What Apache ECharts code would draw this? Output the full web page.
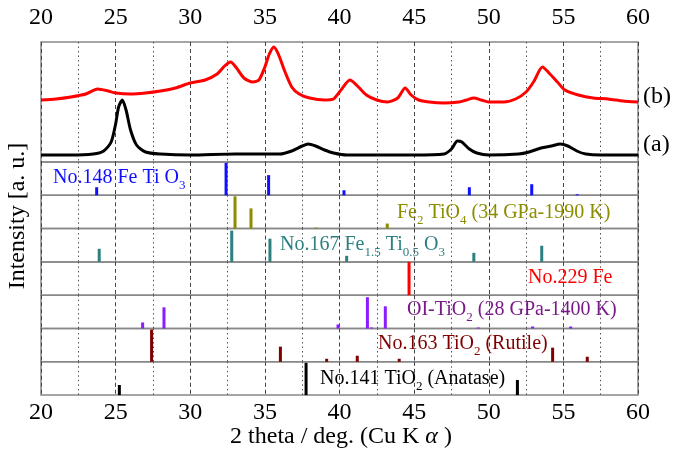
<!DOCTYPE html>
<html>
<head>
<meta charset="utf-8">
<script src="https://cdn.jsdelivr.net/npm/echarts@6/dist/echarts.min.js"></script>
<style>
  html, body { margin: 0; padding: 0; background: #fff; }
  #main { width: 676px; height: 452px; }
</style>
</head>
<body>
<div id="main"></div>
<script>
// 2 theta tick labels
var xTicks = [20, 25, 30, 35, 40, 45, 50, 55, 60];

// measured patterns (2 theta, intensity a.u.)
var angleB = [20, 21, 22, 23, 23.8, 24.5, 25, 26, 27, 28, 29, 30, 31, 31.8, 32.3, 32.7, 33.1, 33.6, 34.2, 34.6,
    35.0, 35.3, 35.6, 35.9, 36.3, 36.8, 37.3, 38, 39, 39.6, 40.1, 40.7, 41.2, 41.8, 42.5, 43.2, 43.9, 44.4,
    44.8, 45.3, 46, 47, 48, 48.5, 49, 49.5, 50, 51, 51.8, 52.5, 53.0, 53.6, 54.1, 54.6, 55.1, 56, 57, 58, 59, 60];
var intensB = [62, 63, 65, 68, 73, 71, 69, 68, 69, 71, 74, 79, 82, 88, 96, 100, 94, 84, 80, 82,
    95, 108, 115, 108, 92, 75, 68, 64, 62, 63, 72, 82, 76, 67, 62, 60, 64, 74,
    67, 62, 60, 59, 60, 62, 64, 62, 60, 60, 63, 70, 80, 95, 88, 80, 72, 67, 64, 63, 61, 60];
var angleA = [20, 22, 23.5, 24.2, 24.7, 25.0, 25.2, 25.45, 25.7, 26.0, 26.4, 27, 28, 30, 33, 36, 36.8, 37.5, 37.9,
    38.4, 39, 39.6, 40.5, 42, 45, 47, 47.5, 47.9, 48.2, 48.7, 49.2, 50, 52, 52.7, 53.5, 54.2, 54.8, 55.3,
    55.9, 56.5, 57.5, 60];
var intensA = [7, 7, 8, 11, 20, 38, 55, 62, 52, 32, 17, 10, 8, 7, 8, 8, 11, 16, 18,
    16, 12, 9, 7, 7, 7, 8, 13, 21, 20, 13, 9, 7, 8, 10, 14, 16, 18, 16,
    11, 8, 7, 7];

// reference stick patterns
var pos148 = [23.73, 32.4, 35.25, 40.3, 48.7, 52.88, 55.93];
var int148 = [8, 32, 20, 5, 8, 11, 1];
var posFe2TiO4 = [33.0, 34.07, 38.43, 43.2];
var intFe2TiO4 = [32, 20, 1, 5];
var pos167 = [23.9, 32.78, 35.34, 40.48, 49.0, 53.55];
var int167 = [13, 31, 23, 6, 9, 16];
var pos229 = [44.66];
var int229 = [33];
var posOI = [26.81, 28.24, 39.9, 41.87, 42.15, 43.07, 49.3, 52.94, 55.49];
var intOI = [6, 21, 4, 31, 1, 22, 1, 2, 2];
var pos163 = [27.41, 36.04, 39.14, 41.19, 44.0, 54.28, 56.6];
var int163 = [32, 15, 3, 6, 3, 14, 5];
var pos141 = [25.25, 37.76, 51.92];
var int141 = [10, 32, 15];

var serif = 'Liberation Serif';

function pairs(xs, ys) {
    var out = [];
    for (var i = 0; i < xs.length; i++) {
        out.push([xs[i], ys[i]]);
    }
    return out;
}

var sticks = [
    {pos: pos148, val: int148, color: '#1010ff'},
    {pos: posFe2TiO4, val: intFe2TiO4, color: '#8c8c00'},
    {pos: pos167, val: int167, color: '#2e8080'},
    {pos: pos229, val: int229, color: '#ff0000'},
    {pos: posOI, val: intOI, color: '#8a1cff'},
    {pos: pos163, val: int163, color: '#7f0000'},
    {pos: pos141, val: int141, color: '#000000'}
];

var left = 41, width = 597;
var panelTop = 162, panelH = 33.3;

var grids = [{left: left, width: width, top: 42, height: 120}];
for (var i = 0; i < sticks.length; i++) {
    grids.push({left: left, width: width, top: panelTop + panelH * i, height: panelH});
}
grids.forEach(function (g) {
    g.show = true;
    g.borderColor = '#888';
    g.borderWidth = 1.5;
    g.containLabel = false;
});

var xAxes = [], yAxes = [];
for (var k = 0; k < grids.length; k++) {
    var isTop = k === 0, isBottom = k === grids.length - 1;
    xAxes.push({
        type: 'value', gridIndex: k, min: xTicks[0], max: xTicks[xTicks.length - 1], interval: 5,
        position: isTop ? 'top' : 'bottom',
        axisLine: {show: false},
        axisTick: {show: false},
        minorTick: {show: false, splitNumber: 2},
        splitLine: {show: true, lineStyle: {color: '#444', type: [4, 3], width: 1}},
        minorSplitLine: {show: true, lineStyle: {color: '#555', type: [1.5, 3], width: 1}},
        axisLabel: {
            show: isTop || isBottom,
            fontFamily: serif, fontSize: 24, color: '#000',
            margin: isTop ? 12 : 6,
            showMinLabel: true, showMaxLabel: true
        }
    });
    yAxes.push({
        type: 'value', gridIndex: k, min: 0, max: isTop ? 120 : 33, show: false
    });
}

var series = [
    {
        name: '(b)', type: 'line', xAxisIndex: 0, yAxisIndex: 0, data: pairs(angleB, intensB),
        showSymbol: false, smooth: 0.25, lineStyle: {color: '#ff0000', width: 3}, z: 5
    },
    {
        name: '(a)', type: 'line', xAxisIndex: 0, yAxisIndex: 0, data: pairs(angleA, intensA),
        showSymbol: false, smooth: 0.25, lineStyle: {color: '#000', width: 3}, z: 5
    }
];
sticks.forEach(function (s, i) {
    series.push({
        type: 'bar', xAxisIndex: i + 1, yAxisIndex: i + 1, data: pairs(s.pos, s.val),
        barWidth: 3, itemStyle: {color: s.color}, silent: true, z: 4
    });
});

var subRich = {
    s: {fontFamily: serif, fontSize: 13, verticalAlign: 'bottom', lineHeight: 15},
    i: {fontFamily: serif, fontSize: 24, fontStyle: 'italic', lineHeight: 30}
};

function label(x, y, text, color) {
    return {
        type: 'text', x: x, y: y, z: 100,
        style: {
            text: text, fill: color, fontFamily: serif, fontSize: 20, lineHeight: 28,
            verticalAlign: 'middle', rich: subRich
        }
    };
}

var graphics = [
    label(53, 178, 'No.148 Fe Ti O{s|3}', '#1010ff'),
    label(397, 213, 'Fe{s|2} TiO{s|4} (34 GPa-1990 K)', '#8c8c00'),
    label(280, 245, 'No.167 Fe{s|1.5} Ti{s|0.5} O{s|3}', '#2e8080'),
    label(528, 278, 'No.229 Fe', '#ff0000'),
    label(407, 310, 'OI-TiO{s|2} (28 GPa-1400 K)', '#7a1a8a'),
    label(378, 344, 'No.163 TiO{s|2} (Rutile)', '#7f0000'),
    label(320, 379, 'No.141 TiO{s|2} (Anatase)', '#000'),
    {
        type: 'text', x: 643, y: 97,
        style: {text: '(b)', fill: '#000', fontFamily: serif, fontSize: 24, verticalAlign: 'middle'}
    },
    {
        type: 'text', x: 643, y: 145,
        style: {text: '(a)', fill: '#000', fontFamily: serif, fontSize: 24, verticalAlign: 'middle'}
    },
    {
        type: 'text', x: 341, y: 437,
        style: {
            text: '2 theta / deg. (Cu K {i|α} )', fill: '#000', fontFamily: serif, fontSize: 24,
            lineHeight: 30, align: 'center', verticalAlign: 'middle', rich: subRich
        }
    },
    {
        type: 'text', x: 18, y: 216, rotation: Math.PI / 2,
        style: {
            text: 'Intensity [a. u.]', fill: '#000', fontFamily: serif, fontSize: 24,
            align: 'center', verticalAlign: 'middle'
        }
    }
];

var myChart = echarts.init(document.getElementById('main'));
var option = {
    backgroundColor: '#fff',
    animation: false,
    grid: grids,
    xAxis: xAxes,
    yAxis: yAxes,
    series: series,
    graphic: graphics
};
myChart.setOption(option);
</script>
</body>
</html>
